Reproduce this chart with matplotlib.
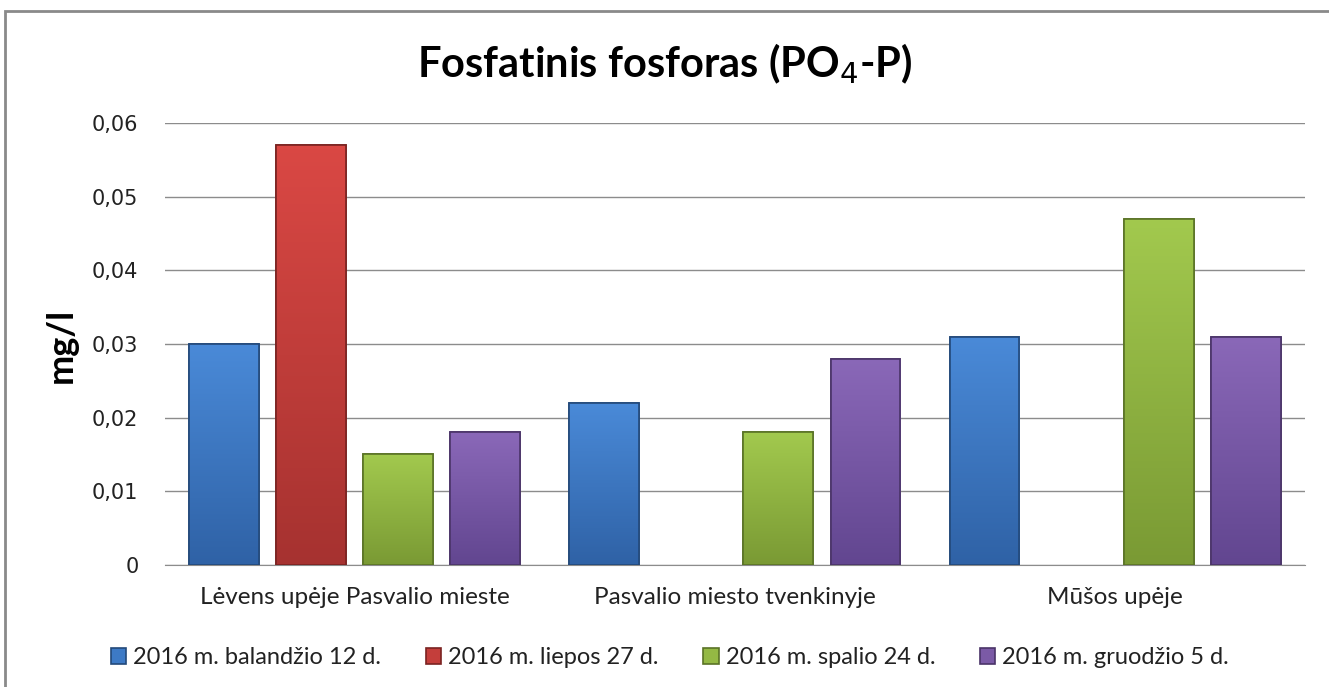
import numpy as np
import matplotlib
matplotlib.use("Agg")
import matplotlib.pyplot as plt
from matplotlib.ticker import FuncFormatter, MultipleLocator
from matplotlib.patches import Rectangle
from matplotlib.colors import LinearSegmentedColormap

# Data
categories = ["Lėvens upėje Pasvalio mieste", "Pasvalio miesto tvenkinyje", "Mūšos upėje"]
series_names = ["2016 m. balandžio 12 d.", "2016 m. liepos 27 d.",
                "2016 m. spalio 24 d.", "2016 m. gruodžio 5 d."]
balandzio = [0.030, 0.022, 0.031]
liepos = [0.057, np.nan, np.nan]
spalio = [0.015, 0.018, 0.047]
gruodzio = [0.018, 0.028, 0.031]

colors = ["#3d7ac6", "#c43e3b", "#94b944", "#7b5aa6"]
tops = ["#4a8ad8", "#da4844", "#a2c94e", "#8a68b8"]
bottoms = ["#2f62a6", "#a63230", "#7a9a34", "#624690"]
edges = ["#23497a", "#7a2321", "#5a7326", "#4a3468"]

plt.rcParams['font.family'] = ['Lato', 'DejaVu Sans']

fig = plt.figure(figsize=(13.29, 6.87), dpi=100)
ax = fig.add_axes([0.124, 0.1776, 0.858, 0.6434])

x = np.arange(len(categories))
width = 0.184
step = 0.229
all_series = [balandzio, liepos, spalio, gruodzio]
grad = np.linspace(1, 0, 100).reshape(-1, 1)
for i, vals in enumerate(all_series):
    bars = ax.bar(x + (i - 1.5) * step, vals, width, color=colors[i], edgecolor=edges[i],
                  linewidth=1.2, label=series_names[i], zorder=3)
    cmap = LinearSegmentedColormap.from_list("g%d" % i, [bottoms[i], tops[i]])
    for r in bars:
        h = r.get_height()
        if np.isnan(h):
            continue
        x0 = r.get_x()
        im = ax.imshow(grad, extent=[x0, x0 + r.get_width(), 0, h], aspect='auto',
                       cmap=cmap, zorder=3.5, vmin=0, vmax=1)
        im.set_clip_path(r)
        ax.add_patch(Rectangle((x0, 0), r.get_width(), h, fill=False,
                               edgecolor=edges[i], linewidth=1.2, zorder=4))

ax.set_xlim(-0.5, 2.5)
ax.set_ylim(0, 0.06)
ax.yaxis.set_major_locator(MultipleLocator(0.01))
ax.yaxis.set_major_formatter(FuncFormatter(lambda v, p: "0" if v == 0 else f"{v:.2f}".replace(".", ",")))
ax.grid(axis='y', color='#8c8c8c', linewidth=1, zorder=0)
for s in ['top', 'right', 'left']:
    ax.spines[s].set_visible(False)
ax.spines['bottom'].set_color('#8c8c8c')
ax.tick_params(axis='y', length=0, pad=19)
ax.tick_params(axis='x', length=0, labelsize=17.5, pad=16)
for lbl in ax.get_yticklabels():
    lbl.set_family('DejaVu Sans')
    lbl.set_fontsize(15)
    lbl.set_color('#222222')
ax.set_xticks(x)
ax.set_xticklabels(categories, color='#222222')

fig.text(61 / 1329, 1 - 345 / 687, "mg/l", rotation=90, ha='center', va='center',
         fontsize=26, fontweight='bold')
fig.text(0.5, 1 - 77 / 687, "Fosfatinis fosforas (PO$_4$-P)", ha='center', va='baseline',
         fontsize=30, fontweight='bold')

ax.legend(loc='center', bbox_to_anchor=(670 / 1329, 1 - 658 / 687), bbox_transform=fig.transFigure,
          ncol=4, frameon=False, fontsize=17, handlelength=0.64, handleheight=0.64,
          columnspacing=1.9, handletextpad=0.3, labelcolor='#222222')

fig.patches.append(Rectangle((0.004, -0.1), 1.2, 1.1 - 11 / 687, transform=fig.transFigure,
                             fill=False, edgecolor='#8a8a8a', linewidth=2))

fig.savefig("out.png", dpi=100)
